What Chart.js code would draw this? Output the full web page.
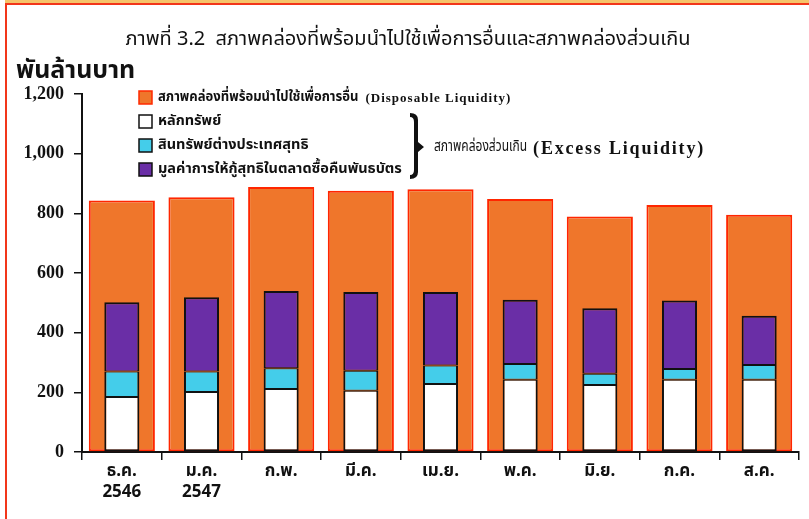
<!DOCTYPE html>
<html>
<head>
<meta charset="utf-8">
<script src="https://cdn.jsdelivr.net/npm/chart.js@4.4.1/dist/chart.umd.min.js"></script>
<style>
  html, body { margin: 0; padding: 0; background: #ffffff; }
  #wrap { position: relative; width: 809px; height: 519px; }
  canvas { display: block; }
</style>
</head>
<body>
<div id="wrap"><canvas id="c" width="809" height="519"></canvas></div>
<script>
// Months (Dec 2546 – Aug 2547)
const months = [['ธ.ค.', '2546'], ['ม.ค.', '2547'], 'ก.พ.', 'มี.ค.', 'เม.ย.', 'พ.ค.', 'มิ.ย.', 'ก.ค.', 'ส.ค.'];

// Billion baht
const disposable   = [843, 854, 888, 876, 881, 848, 789, 828, 795];
const securities   = [184, 201, 211, 205, 228, 242, 225, 242, 242];
const foreignNet   = [86, 69, 70, 67, 62, 53, 37, 36, 50];
const repoLending  = [232, 249, 259, 264, 246, 215, 220, 230, 165];

const yTicks = [0, 200, 400, 600, 800, 1000, 1200];

const titleText = 'ภาพที่ 3.2  สภาพคล่องที่พร้อมนำไปใช้เพื่อการอื่นและสภาพคล่องส่วนเกิน';
const unitText = 'พันล้านบาท';
const excessText = 'สภาพคล่องส่วนเกิน';
const excessEn = '(Excess Liquidity)';

const labels = {
  disposable: 'สภาพคล่องที่พร้อมนำไปใช้เพื่อการอื่น (Disposable Liquidity)',
  securities: 'หลักทรัพย์',
  foreign: 'สินทรัพย์ต่างประเทศสุทธิ',
  repo: 'มูลค่าการให้กู้สุทธิในตลาดซื้อคืนพันธบัตร'
};

const THAI = '"Noto Sans Thai", "Noto Sans", "DejaVu Sans", sans-serif';
const SERIF = '"Liberation Serif", "DejaVu Serif", serif';

// Text squeezed horizontally; returns the drawn width
function condensed(ctx, text, x, y, sx) {
  ctx.save();
  ctx.translate(x, y);
  ctx.scale(sx, 1);
  ctx.fillText(text, 0, 0);
  const w = ctx.measureText(text).width * sx;
  ctx.restore();
  return w;
}

// Frame, title, unit label and the custom legend with its brace
const decorations = {
  id: 'decorations',
  beforeDraw(chart) {
    const ctx = chart.ctx;
    ctx.save();
    ctx.fillStyle = '#ffffff';
    ctx.fillRect(0, 0, chart.width, chart.height);
    // frame
    ctx.fillStyle = '#f6c46a';
    ctx.fillRect(5, 0, chart.width - 5, 3);
    ctx.fillStyle = '#f2361a';
    ctx.fillRect(5, 3, chart.width - 5, 2);
    ctx.fillRect(5, 3, 2, chart.height - 3);
    ctx.restore();
  },
  afterDraw(chart) {
    const ctx = chart.ctx;
    ctx.save();
    ctx.fillStyle = '#111';
    ctx.textBaseline = 'middle';
    // title
    ctx.textAlign = 'center';
    ctx.font = '20px ' + THAI;
    ctx.fillText(titleText, 408, 41);
    // unit
    ctx.textAlign = 'left';
    ctx.font = 'bold 25px ' + THAI;
    ctx.fillText(unitText, 16, 73);

    // legend
    const ds = chart.data.datasets;
    const rows = [98, 122, 146, 170];
    [0, 1, 2, 3].forEach((di, i) => {
      const d = ds[di];
      const y = rows[i];
      ctx.fillStyle = d.backgroundColor;
      ctx.fillRect(139, y - 7, 13, 13);
      ctx.lineWidth = 1.5;
      ctx.strokeStyle = di === 0 ? '#ff2a00' : '#111';
      ctx.strokeRect(139, y - 7, 13, 13);
      const parts = d.label.split(' (');
      ctx.fillStyle = '#111';
      ctx.font = 'bold 14.5px ' + THAI;
      if (parts.length > 1) {
        const w = condensed(ctx, parts[0], 158, y, 0.9);
        ctx.font = 'bold 13px ' + SERIF;
        ctx.letterSpacing = '1px';
        ctx.fillText('(' + parts[1], 158 + w + 7, y + 1);
        ctx.letterSpacing = '0px';
      } else {
        ctx.fillText(parts[0], 158, y);
      }
    });

    // brace
    ctx.fillStyle = '#111';
    ctx.beginPath();
    ctx.moveTo(410, 113);
    ctx.quadraticCurveTo(418, 113, 418, 120);
    ctx.lineTo(418, 142);
    ctx.lineTo(424, 147);
    ctx.lineTo(418, 152);
    ctx.lineTo(418, 172);
    ctx.quadraticCurveTo(418, 179, 410, 179);
    ctx.lineTo(410, 175);
    ctx.quadraticCurveTo(414, 175, 414, 170);
    ctx.lineTo(414, 122);
    ctx.quadraticCurveTo(414, 117, 410, 117);
    ctx.closePath();
    ctx.fill();

    ctx.font = '15px ' + THAI;
    const w2 = condensed(ctx, excessText, 434, 148, 0.8);
    ctx.font = 'bold 18px ' + SERIF;
    ctx.letterSpacing = '1.8px';
    ctx.fillText(excessEn, 434 + w2 + 6, 149);
    ctx.letterSpacing = '0px';
    ctx.restore();
  }
};

const inner = {
  stack: 'excess',
  grouped: false,
  barPercentage: 0.44,
  categoryPercentage: 1,
  borderColor: '#111111',
  borderSkipped: false,
  order: 0
};

new Chart(document.getElementById('c'), {
  type: 'bar',
  data: {
    labels: months,
    datasets: [
      {
        label: labels.disposable,
        data: disposable,
        stack: 'disposable',
        grouped: false,
        barPercentage: 0.83,
        categoryPercentage: 1,
        backgroundColor: '#ef762b',
        borderColor: '#ff2600',
        borderWidth: 2,
        borderSkipped: false,
        order: 1
      },
      Object.assign({ label: labels.securities, data: securities, backgroundColor: '#ffffff',
        borderWidth: { top: 1, bottom: 2, left: 2, right: 2 } }, inner),
      Object.assign({ label: labels.foreign, data: foreignNet, backgroundColor: '#44cdea',
        borderWidth: { top: 1, bottom: 1, left: 2, right: 2 } }, inner),
      Object.assign({ label: labels.repo, data: repoLending, backgroundColor: '#6a2ea6',
        borderWidth: { top: 2, bottom: 1, left: 2, right: 2 } }, inner)
    ]
  },
  options: {
    responsive: false,
    animation: false,
    devicePixelRatio: 1,
    layout: { padding: { top: 94, right: 10, left: 0, bottom: 0 } },
    plugins: {
      legend: { display: false },
      tooltip: { enabled: false },
      title: { display: false }
    },
    scales: {
      x: {
        stacked: true,
        offset: true,
        afterFit(scale) { scale.height = 67; },
        grid: {
          offset: true,
          drawOnChartArea: false,
          drawTicks: true,
          tickLength: 8,
          color: '#111',
          lineWidth: 1.5
        },
        border: { display: true, color: '#111', width: 2 },
        ticks: {
          color: '#111',
          padding: 2,
          maxRotation: 0,
          autoSkip: false,
          font: { family: THAI, size: 17, weight: 'bold', lineHeight: 1.25 }
        }
      },
      y: {
        stacked: true,
        min: 0,
        max: 1200,
        afterFit(scale) { scale.width = 82; },
        afterBuildTicks(scale) { scale.ticks = yTicks.map(v => ({ value: v })); },
        grid: {
          drawOnChartArea: false,
          drawTicks: true,
          tickLength: 8,
          color: '#111',
          lineWidth: 1.5
        },
        border: { display: true, color: '#111', width: 2 },
        ticks: {
          color: '#111',
          padding: 10,
          font: { family: SERIF, size: 18, weight: 'bold' },
          callback: v => v.toLocaleString('en-US')
        }
      }
    }
  },
  plugins: [decorations]
});
</script>
</body>
</html>
